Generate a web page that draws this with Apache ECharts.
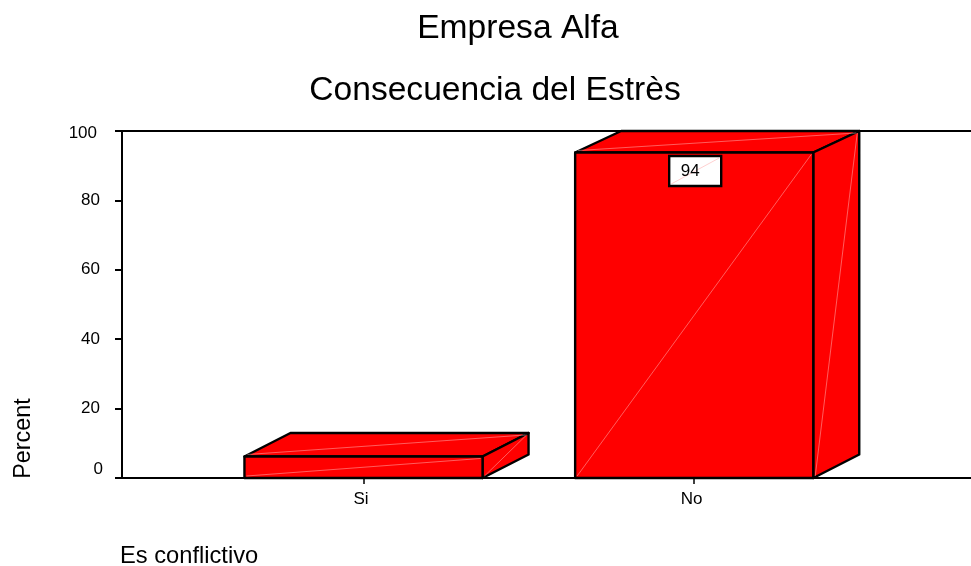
<!DOCTYPE html>
<html>
<head>
<meta charset="utf-8">
<style>html,body{margin:0;padding:0;background:#fff}#c{width:971px;height:566px}</style>
<script src="https://cdn.jsdelivr.net/npm/echarts@6/dist/echarts.min.js"></script>
</head>
<body>
<div id="c"></div>
<script>
var titleMain = 'Empresa Alfa';
var titleSub = 'Consecuencia del Estrès';
var yAxisTitle = 'Percent';
var xAxisTitle = 'Es conflictivo';
var categories = ['Si', 'No'];
var percents = [6.2, 93.8];
var labelled = ['', '94'];
var yTicks = { min: 0, max: 100, interval: 20 };

var FONT = '"Liberation Sans", Arial, sans-serif';
var DX = 46, DY = -23.5;
var SEAM = 'rgba(255,190,190,0.7)';

function renderBar(params, api) {
  var i = api.value(0), v = api.value(1);
  var base = api.coord([i, 0]);
  var top = api.coord([i, v]);
  var lim = api.coord([i, yTicks.max])[1];
  var half = api.size([1, 0])[0] * 0.36;
  var l = base[0] - half, r = base[0] + half, b = base[1], t = top[1];
  var back = Math.max(t + DY, lim);
  var edge = { fill: '#ff0000', stroke: '#000', lineWidth: 2.4, lineJoin: 'round' };
  var seam = { stroke: SEAM, lineWidth: 0.7, fill: null };
  var kids = [
    { type: 'polygon', shape: { points: [[l, t], [l + DX, back], [r + DX, back], [r, t]] }, style: edge },
    { type: 'polygon', shape: { points: [[r, t], [r + DX, back], [r + DX, b + DY], [r, b]] }, style: edge },
    { type: 'polygon', shape: { points: [[l, b], [l, t], [r, t], [r, b]] }, style: edge },
    { type: 'line', shape: { x1: l + 2, y1: b - 2, x2: r - 2, y2: t + 2 }, style: seam },
    { type: 'line', shape: { x1: l + 3, y1: t - 2, x2: r + DX - 3, y2: back + 2 }, style: seam },
    { type: 'line', shape: { x1: r + 2, y1: b - 2, x2: r + DX - 2, y2: back + 2 }, style: seam }
  ];
  var text = labelled[i];
  if (text) {
    var bx = base[0] - 25, by = t + 3.5, bw = 52, bh = 30;
    kids.push({ type: 'rect', shape: { x: bx, y: by, width: bw, height: bh }, style: { fill: '#fff', stroke: '#000', lineWidth: 2.4 } });
    kids.push({ type: 'line', shape: { x1: bx + 2, y1: by + bh - 2, x2: bx + bw - 2, y2: by + 2 }, style: { stroke: 'rgba(255,170,170,0.8)', lineWidth: 0.7 } });
    kids.push({ type: 'text', style: { text: text, x: bx + 21, y: by + 15, align: 'center', verticalAlign: 'middle', fill: '#000', font: '17px ' + FONT } });
  }
  return { type: 'group', children: kids };
}

var chart = echarts.init(document.getElementById('c'), null, { renderer: 'canvas' });
var blankAxis = function (pos) {
  return {
    type: 'value', gridIndex: 0, position: pos, min: 0, max: 1,
    axisLine: { show: true, onZero: false, lineStyle: { color: '#000', width: 2 } },
    axisTick: { show: false }, axisLabel: { show: false }, splitLine: { show: false }
  };
};
var tickRich = function (pad) {
  return { fontSize: 17, color: '#000', fontFamily: FONT, padding: pad };
};
chart.setOption({
  animation: false,
  backgroundColor: '#fff',
  textStyle: { fontFamily: FONT },
  title: [
    { text: titleMain, left: 513, top: 7, textAlign: 'center', textStyle: { fontSize: 33.6, fontWeight: 'normal', color: '#000', fontFamily: FONT } },
    { text: titleSub, left: 490, top: 69, textAlign: 'center', textStyle: { fontSize: 33.6, fontWeight: 'normal', color: '#000', fontFamily: FONT } }
  ],
  grid: [
    { left: 122, right: 0, top: 131, bottom: 88 },
    { left: 198.15, width: 661.4, top: 131, bottom: 88 }
  ],
  xAxis: [
    blankAxis('bottom'),
    blankAxis('top'),
    {
      type: 'category', gridIndex: 1, data: categories, position: 'bottom',
      axisLine: { show: false },
      axisTick: { show: true, alignWithLabel: true, length: 6, lineStyle: { color: '#000', width: 1.5 } },
      axisLabel: { show: true, margin: 13, interval: 0, color: '#000', fontSize: 17, fontFamily: FONT, padding: [0, 5, 0, 0] },
      splitLine: { show: false }
    }
  ],
  yAxis: [
    {
      type: 'value', gridIndex: 0, min: yTicks.min, max: yTicks.max, interval: yTicks.interval,
      axisLine: { show: true, onZero: false, lineStyle: { color: '#000', width: 2 } },
      axisTick: { show: true, length: 7, lineStyle: { color: '#000', width: 2 } },
      axisLabel: {
        margin: 19, color: '#000', fontSize: 17, fontFamily: FONT, showMinLabel: true, showMaxLabel: true,
        formatter: function (v) { return v === 0 ? '{z|0}' : (v === 100 ? '{h|100}' : '{m|' + v + '}'); },
        rich: { z: tickRich([0, 0, 18, 0]), m: tickRich([0, 3, 0, 0]), h: tickRich([4, 6, 0, 0]) }
      },
      splitLine: { show: false }
    },
    {
      type: 'value', gridIndex: 1, min: yTicks.min, max: yTicks.max, interval: yTicks.interval, show: false,
      splitLine: { show: false }
    }
  ],
  series: [{
    type: 'custom', xAxisIndex: 2, yAxisIndex: 1, clip: false, silent: true,
    encode: { x: 0, y: 1 },
    data: categories.map(function (c, i) { return [i, percents[i]]; }),
    renderItem: renderBar
  }],
  graphic: [
    { type: 'text', rotation: Math.PI / 2, x: 24, y: 438.5, style: { text: yAxisTitle, align: 'center', verticalAlign: 'middle', fill: '#000', font: '23.4px ' + FONT } },
    { type: 'text', x: 120, y: 556, style: { text: xAxisTitle, align: 'left', verticalAlign: 'middle', fill: '#000', font: '23.7px ' + FONT } }
  ]
});
</script>
</body>
</html>
